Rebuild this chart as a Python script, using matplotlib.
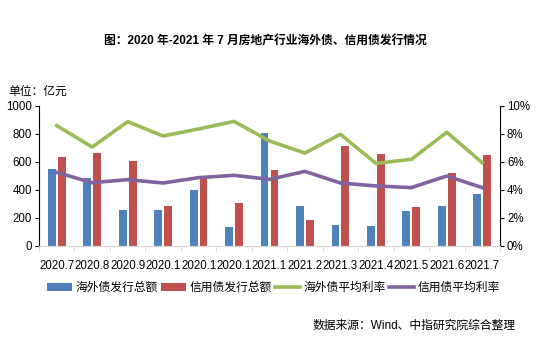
import matplotlib
matplotlib.use("Agg")
import matplotlib.pyplot as plt
import numpy as np

plt.rcParams['font.family'] = ['Liberation Sans', 'Noto Sans CJK SC', 'DejaVu Sans']

months = ["2020.7", "2020.8", "2020.9", "2020.1", "2020.1", "2020.1", "2021.1",
          "2021.2", "2021.3", "2021.4", "2021.5", "2021.6", "2021.7"]
overseas_amt = [550, 486, 257, 257, 400, 136, 807, 286, 150, 143, 250, 286, 371]
credit_amt = [636, 664, 607, 286, 495, 307, 540, 186, 714, 657, 279, 521, 650]
overseas_rate = [8.6, 7.07, 8.88, 7.86, 8.36, 8.9, 7.5, 6.64, 7.98, 5.9, 6.19, 8.12, 5.95]
credit_rate = [5.26, 4.52, 4.74, 4.5, 4.88, 5.05, 4.76, 5.33, 4.5, 4.29, 4.17, 5.0, 4.17]

blue, red, green, purple = "#4F81BD", "#C0504D", "#9BBB59", "#8064A2"

fig = plt.figure(figsize=(5.36, 3.47), dpi=100)
ax = fig.add_axes([39 / 536, 1 - 246 / 347, 461 / 536, 140 / 347])
ax2 = ax.twinx()

x = np.arange(len(months))
w = 0.22
b1 = ax.bar(x - 0.14, overseas_amt, w, color=blue, label="海外债发行总额")
b2 = ax.bar(x + 0.14, credit_amt, w, color=red, label="信用债发行总额")
l1, = ax2.plot(x, overseas_rate, color=green, lw=2.6, label="海外债平均利率")
l2, = ax2.plot(x, credit_rate, color=purple, lw=2.6, label="信用债平均利率")

ax.set_xlim(-0.5, len(months) - 0.5)
ax.set_ylim(0, 1000)
ax.set_yticks(range(0, 1001, 200))
ax2.set_ylim(0, 10)
ax2.set_yticks(range(0, 11, 2))
ax2.set_yticklabels([f"{v}%" for v in range(0, 11, 2)])

ax.set_xticks(x)
ax.set_xticklabels(months)
ax.set_xticks(np.arange(-0.5, len(months), 1), minor=True)
ax.tick_params(axis='x', which='major', length=0, labelsize=8.3, pad=10)
ax.tick_params(axis='x', which='minor', length=4, color="#d9d9d9")
ax.tick_params(axis='y', length=3, labelsize=8.3, pad=2)
ax2.tick_params(axis='y', length=3, labelsize=8.3, pad=2)

for a in (ax, ax2):
    a.spines['top'].set_visible(False)
    a.spines['bottom'].set_color("#d9d9d9")
ax.spines['right'].set_visible(False)
ax2.spines['left'].set_visible(False)

fig.text(0.495, 1 - 42 / 347, "图：2020 年-2021 年 7 月房地产行业海外债、信用债发行情况",
         ha='center', va='center', fontsize=8.5, fontweight='bold')
fig.text(8 / 536, 1 - 92 / 347, "单位：亿元", ha='left', va='center', fontsize=8.5)
fig.text(516 / 536, 1 - 326 / 347, "数据来源：Wind、中指研究院综合整理",
         ha='right', va='center', fontsize=8.5)

fig.legend(handles=[b1, b2, l1, l2], loc='center', bbox_to_anchor=(0.51, 1 - 288 / 347),
           ncol=4, frameon=False, fontsize=8.5, handlelength=2.1, handleheight=0.6,
           columnspacing=0.3, handletextpad=0.3)

fig.savefig("out.png", dpi=100)
